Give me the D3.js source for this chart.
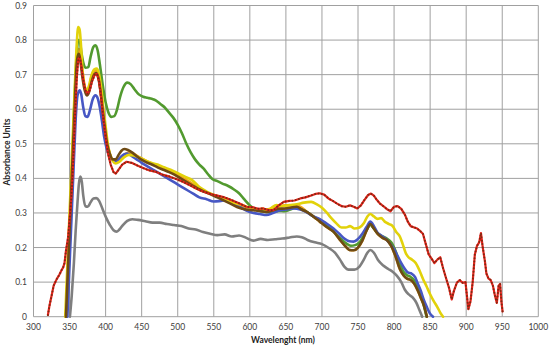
<!DOCTYPE html>
<html><head><meta charset="utf-8">
<script src="https://cdn.jsdelivr.net/npm/d3@7"></script>
<style>body{margin:0;background:#fff}svg{display:block}text{font-family:Lato,"Open Sans",sans-serif}</style>
</head><body>
<svg id="c" width="550" height="347"></svg>
<script>
const xTicks = [300,350,400,450,500,550,600,650,700,750,800,850,900,950,1000];
const yTicks = [0,0.1,0.2,0.3,0.4,0.5,0.6,0.7,0.8,0.9];
const yTickLabels = ["0","0.1","0.2","0.3","0.4","0.5","0.6","0.7","0.8","0.9"];

const gray = [[350.5,0],[353,0.06],[356,0.155],[358.5,0.25],[361,0.33],[363,0.385],[365,0.405],[367,0.39],[369,0.35],[372,0.32],[375,0.318],[379,0.33],[383,0.342],[387,0.343],[391,0.335],[396,0.31],[401,0.285],[406,0.265],[411,0.25],[415,0.246],[419,0.252],[424,0.265],[430,0.277],[437,0.282],[445,0.28],[455,0.276],[465,0.272],[475,0.272],[485,0.268],[495,0.265],[505,0.262],[515,0.255],[525,0.252],[535,0.245],[545,0.24],[555,0.236],[565,0.238],[575,0.232],[585,0.235],[595,0.228],[605,0.22],[615,0.225],[625,0.222],[635,0.224],[645,0.226],[655,0.229],[665,0.232],[672,0.23],[680,0.222],[690,0.215],[700,0.21],[710,0.198],[718,0.185],[725,0.165],[731,0.145],[737,0.136],[745,0.136],[752,0.145],[758,0.165],[763,0.185],[767,0.193],[772,0.185],[778,0.163],[785,0.148],[792,0.138],[798,0.13],[804,0.118],[810,0.1],[815,0.078],[820,0.065],[826,0.055],[831,0.04],[835,0.02],[839,0]];

const orange = [[345,0],[347,0.1],[349,0.2],[351,0.3],[353,0.4],[355,0.5],[357,0.6],[359,0.7],[361,0.76],[363,0.775],[365,0.76],[368,0.71],[371,0.665],[374,0.648],[377,0.66],[380,0.69],[384,0.71],[387,0.712],[390,0.695],[393,0.655],[396,0.6],[399,0.55],[402,0.505],[406,0.47],[410,0.452],[415,0.448],[420,0.455],[426,0.468],[432,0.475],[438,0.472],[446,0.462],[455,0.452],[464,0.442],[473,0.435],[482,0.428],[491,0.418],[500,0.41],[510,0.398],[520,0.385],[530,0.372],[540,0.36],[550,0.352],[560,0.345],[570,0.34],[580,0.33],[590,0.32],[600,0.315],[610,0.31],[620,0.31],[630,0.312],[640,0.318],[650,0.322],[660,0.322],[670,0.318],[679,0.303],[688,0.29],[697,0.275],[706,0.26],[716,0.246],[725,0.222],[732,0.205],[738,0.193],[744,0.192],[750,0.2],[756,0.22],[762,0.25],[767,0.268],[772,0.255],[778,0.238],[784,0.228],[790,0.222],[796,0.205],[802,0.175],[808,0.138],[813,0.12],[818,0.11],[823,0.106],[828,0.095],[833,0.075],[837,0.055],[841,0.035],[845.5,0]];

const green = [[346,0],[348,0.1],[350,0.2],[352,0.32],[354,0.45],[356,0.58],[358,0.68],[360,0.76],[362,0.8],[364,0.8],[366,0.77],[369,0.735],[372,0.72],[376,0.722],[379,0.75],[383,0.78],[386,0.785],[389,0.77],[392,0.73],[396,0.67],[400,0.62],[404,0.59],[408,0.578],[412,0.58],[416,0.6],[420,0.635],[425,0.665],[430,0.677],[435,0.672],[440,0.658],[446,0.643],[452,0.636],[458,0.633],[464,0.63],[470,0.625],[476,0.615],[482,0.605],[488,0.59],[494,0.575],[500,0.555],[506,0.53],[512,0.5],[518,0.475],[524,0.455],[530,0.44],[536,0.428],[542,0.412],[548,0.398],[555,0.392],[562,0.385],[570,0.378],[578,0.368],[585,0.357],[592,0.34],[600,0.322],[608,0.31],[616,0.305],[625,0.302],[632,0.303],[640,0.306],[648,0.305],[656,0.31],[664,0.315],[672,0.31],[680,0.302],[688,0.29],[697,0.28],[706,0.265],[716,0.246],[725,0.228],[733,0.213],[740,0.205],[746,0.207],[752,0.215],[758,0.235],[763,0.255],[767,0.265],[772,0.255],[778,0.24],[784,0.232],[790,0.226],[796,0.215],[802,0.19],[808,0.155],[813,0.13],[818,0.12],[823,0.115],[828,0.105],[833,0.085],[837,0.06],[841,0.035],[845,0]];

const blue = [[347,0],[349,0.1],[351,0.2],[353,0.3],[355,0.4],[357,0.5],[359,0.59],[361,0.64],[364,0.655],[366,0.645],[369,0.605],[372,0.58],[375,0.578],[378,0.595],[382,0.628],[386,0.64],[389,0.632],[392,0.605],[395,0.565],[398,0.52],[401,0.49],[405,0.465],[410,0.452],[415,0.45],[420,0.46],[426,0.47],[430,0.472],[436,0.465],[443,0.455],[450,0.445],[458,0.435],[466,0.425],[474,0.415],[482,0.405],[490,0.395],[498,0.385],[506,0.375],[514,0.365],[522,0.355],[530,0.345],[540,0.34],[550,0.333],[560,0.335],[568,0.337],[576,0.33],[586,0.318],[596,0.306],[605,0.3],[614,0.297],[623,0.294],[632,0.3],[642,0.308],[651,0.31],[660,0.313],[670,0.31],[679,0.302],[688,0.29],[697,0.282],[706,0.27],[716,0.255],[724,0.24],[731,0.226],[738,0.218],[744,0.217],[750,0.225],[756,0.24],[762,0.26],[767,0.275],[772,0.262],[777,0.243],[782,0.235],[788,0.226],[794,0.212],[800,0.195],[805,0.175],[810,0.155],[815,0.138],[819,0.128],[824,0.125],[829,0.115],[833,0.095],[837,0.075],[841,0.05],[845,0.03],[849,0.012],[854,0]];

const yellow = [[344,0],[346,0.1],[348,0.2],[350,0.3],[352,0.4],[354,0.5],[356,0.6],[358,0.7],[360,0.79],[362,0.838],[364,0.83],[366,0.78],[368,0.71],[371,0.665],[374,0.655],[377,0.668],[380,0.695],[384,0.715],[388,0.718],[391,0.7],[394,0.66],[397,0.6],[400,0.55],[403,0.5],[406,0.47],[410,0.45],[414,0.443],[419,0.448],[425,0.46],[432,0.468],[439,0.466],[447,0.46],[455,0.452],[463,0.445],[472,0.44],[481,0.432],[490,0.425],[500,0.415],[510,0.405],[520,0.395],[530,0.375],[540,0.362],[550,0.352],[560,0.345],[570,0.335],[580,0.328],[590,0.322],[600,0.315],[610,0.31],[618,0.312],[624,0.306],[630,0.315],[637,0.323],[645,0.32],[655,0.323],[665,0.325],[675,0.33],[685,0.332],[693,0.325],[700,0.315],[707,0.3],[713,0.285],[720,0.27],[727,0.258],[733,0.258],[739,0.262],[745,0.255],[752,0.258],[758,0.27],[763,0.29],[767,0.297],[772,0.29],[777,0.283],[782,0.285],[787,0.275],[793,0.268],[798,0.262],[803,0.245],[808,0.232],[812,0.21],[816,0.185],[820,0.172],[825,0.165],[830,0.155],[835,0.135],[840,0.11],[845,0.088],[850,0.065],[855,0.045],[860,0.028],[864,0.012],[868,0]];

const brown = [[345,0],[347,0.1],[349,0.2],[351,0.3],[353,0.4],[355,0.5],[357,0.6],[359,0.7],[361,0.75],[363,0.76],[365,0.74],[368,0.69],[371,0.655],[374,0.64],[377,0.65],[380,0.675],[384,0.7],[387,0.705],[390,0.69],[393,0.65],[396,0.595],[399,0.545],[402,0.5],[406,0.47],[410,0.455],[414,0.455],[418,0.468],[422,0.48],[426,0.485],[431,0.482],[436,0.476],[442,0.466],[449,0.455],[456,0.447],[464,0.44],[472,0.432],[480,0.425],[488,0.418],[496,0.41],[504,0.4],[512,0.39],[520,0.38],[528,0.37],[536,0.362],[545,0.355],[555,0.345],[565,0.335],[575,0.325],[585,0.315],[595,0.31],[605,0.308],[615,0.305],[623,0.303],[632,0.308],[640,0.312],[648,0.313],[656,0.315],[665,0.318],[672,0.31],[679,0.303],[688,0.29],[697,0.275],[706,0.26],[716,0.246],[725,0.222],[732,0.205],[738,0.193],[744,0.192],[750,0.2],[756,0.22],[762,0.25],[767,0.268],[772,0.255],[778,0.238],[784,0.228],[790,0.222],[796,0.205],[802,0.175],[808,0.138],[813,0.12],[818,0.11],[823,0.106],[828,0.095],[833,0.075],[837,0.055],[841,0.035],[845.5,0]];

const red = [[320,0.005],[322,0.03],[325,0.06],[328,0.09],[332,0.108],[336,0.122],[339,0.135],[341,0.142],[343,0.155],[345,0.19],[348,0.23],[350,0.28],[352,0.33],[354,0.4],[356,0.5],[358,0.6],[360,0.69],[362,0.745],[364,0.75],[366,0.73],[369,0.685],[372,0.655],[375,0.645],[378,0.655],[381,0.68],[385,0.7],[388,0.702],[391,0.68],[394,0.63],[397,0.57],[400,0.52],[403,0.475],[407,0.44],[411,0.418],[414,0.414],[418,0.425],[423,0.44],[429,0.448],[436,0.445],[444,0.437],[452,0.43],[461,0.423],[471,0.418],[480,0.41],[489,0.405],[498,0.398],[507,0.39],[517,0.38],[526,0.37],[535,0.362],[545,0.355],[555,0.35],[565,0.345],[575,0.337],[585,0.328],[595,0.318],[605,0.316],[612,0.312],[619,0.313],[626,0.308],[633,0.308],[640,0.322],[647,0.332],[655,0.335],[662,0.336],[670,0.342],[677,0.345],[684,0.35],[691,0.355],[697,0.357],[703,0.353],[709,0.342],[715,0.335],[721,0.327],[727,0.32],[733,0.318],[739,0.322],[744,0.318],[749,0.313],[754,0.322],[759,0.338],[764,0.352],[768,0.356],[772,0.35],[776,0.338],[781,0.326],[786,0.318],[791,0.31],[795,0.305],[800,0.318],[805,0.32],[810,0.312],[815,0.295],[819,0.275],[823,0.262],[828,0.258],[832,0.255],[836,0.248],[840,0.24],[844,0.21],[848,0.18],[852,0.168],[856,0.155],[860,0.165],[864,0.172],[868,0.14],[872,0.112],[876,0.085],[880,0.05],[883,0.075],[887,0.098],[891,0.106],[895,0.098],[899,0.1],[903,0.022],[906,0.045],[909,0.1],[912,0.18],[915,0.205],[918,0.215],[920.5,0.242],[923,0.2],[926,0.16],[928,0.125],[931,0.11],[934,0.106],[937,0.09],[940,0.06],[942.5,0.04],[945,0.09],[947,0.095],[949,0.04],[950.5,0.015]];

const series = [
  {data: gray, color: "#7f7f7f", w: 2.6},
  {data: orange, color: "#f4a21a", w: 2.6},
  {data: green, color: "#529a2f", w: 2.6},
  {data: blue, color: "#4757c4", w: 2.6},
  {data: yellow, color: "#e2d20a", w: 2.6},
  {data: brown, color: "#6e4a14", w: 2.6},
  {data: red, color: "#e8231c", w: 2.2, markers: "#7e2b12"}
];

const svg = d3.select("#c");
const L = 33.5, R = 538.3, T = 5.5, B = 316.7;
const x = d3.scaleLinear().domain([300,1000]).range([L,R]);
const y = d3.scaleLinear().domain([0,0.9]).range([B,T]);

const grid = svg.append("g");
grid.selectAll(".v").data(xTicks).join("line")
  .attr("x1", d=>x(d)).attr("x2", d=>x(d)).attr("y1", T).attr("y2", B)
  .attr("stroke", "#a0a0a0").attr("stroke-width", 1);
grid.selectAll(".h").data(yTicks).join("line")
  .attr("x1", L).attr("x2", R).attr("y1", d=>y(d)).attr("y2", d=>y(d))
  .attr("stroke", "#a0a0a0").attr("stroke-width", 1);

svg.append("g").selectAll("text").data(xTicks).join("text")
  .attr("x", d=>x(d)).attr("y", 330).attr("text-anchor","middle")
  .attr("font-size", 8.5).attr("fill","#404040").text(d=>d);
svg.append("g").selectAll("text").data(yTicks).join("text")
  .attr("x", 27).attr("y", d=>y(d)+3).attr("text-anchor","end")
  .attr("font-size", 8.5).attr("fill","#404040").text((d,i)=>yTickLabels[i]);

svg.append("text").attr("x", 283).attr("y", 343).attr("text-anchor","middle")
  .attr("font-size", 8.5).attr("font-weight","bold").attr("fill","#222").text("Wavelenght (nm)");
svg.append("text").attr("transform","translate(10,152) rotate(-90)").attr("text-anchor","middle")
  .attr("font-size", 8.5).attr("font-weight","bold").attr("fill","#222").text("Absorbance Units");

const line = d3.line().x(d=>x(d[0])).y(d=>y(d[1])).curve(d3.curveMonotoneX);
const lineLin = d3.line().x(d=>x(d[0])).y(d=>y(d[1])).curve(d3.curveLinear);

series.forEach(s=>{
  const p = svg.append("path").datum(s.data)
    .attr("d", s.markers ? lineLin : line)
    .attr("fill","none").attr("stroke", s.color).attr("stroke-width", s.w)
    .attr("stroke-linejoin","round").attr("stroke-linecap","round");
  if (s.markers) {
    const node = p.node();
    const len = node.getTotalLength();
    const pts = d3.range(0, len, 3.4).map(l=>node.getPointAtLength(l));
    svg.append("g").selectAll("circle").data(pts).join("circle")
      .attr("cx", d=>d.x).attr("cy", d=>d.y).attr("r", 1.0)
      .attr("fill", s.markers);
  }
});
</script>
</body></html>
